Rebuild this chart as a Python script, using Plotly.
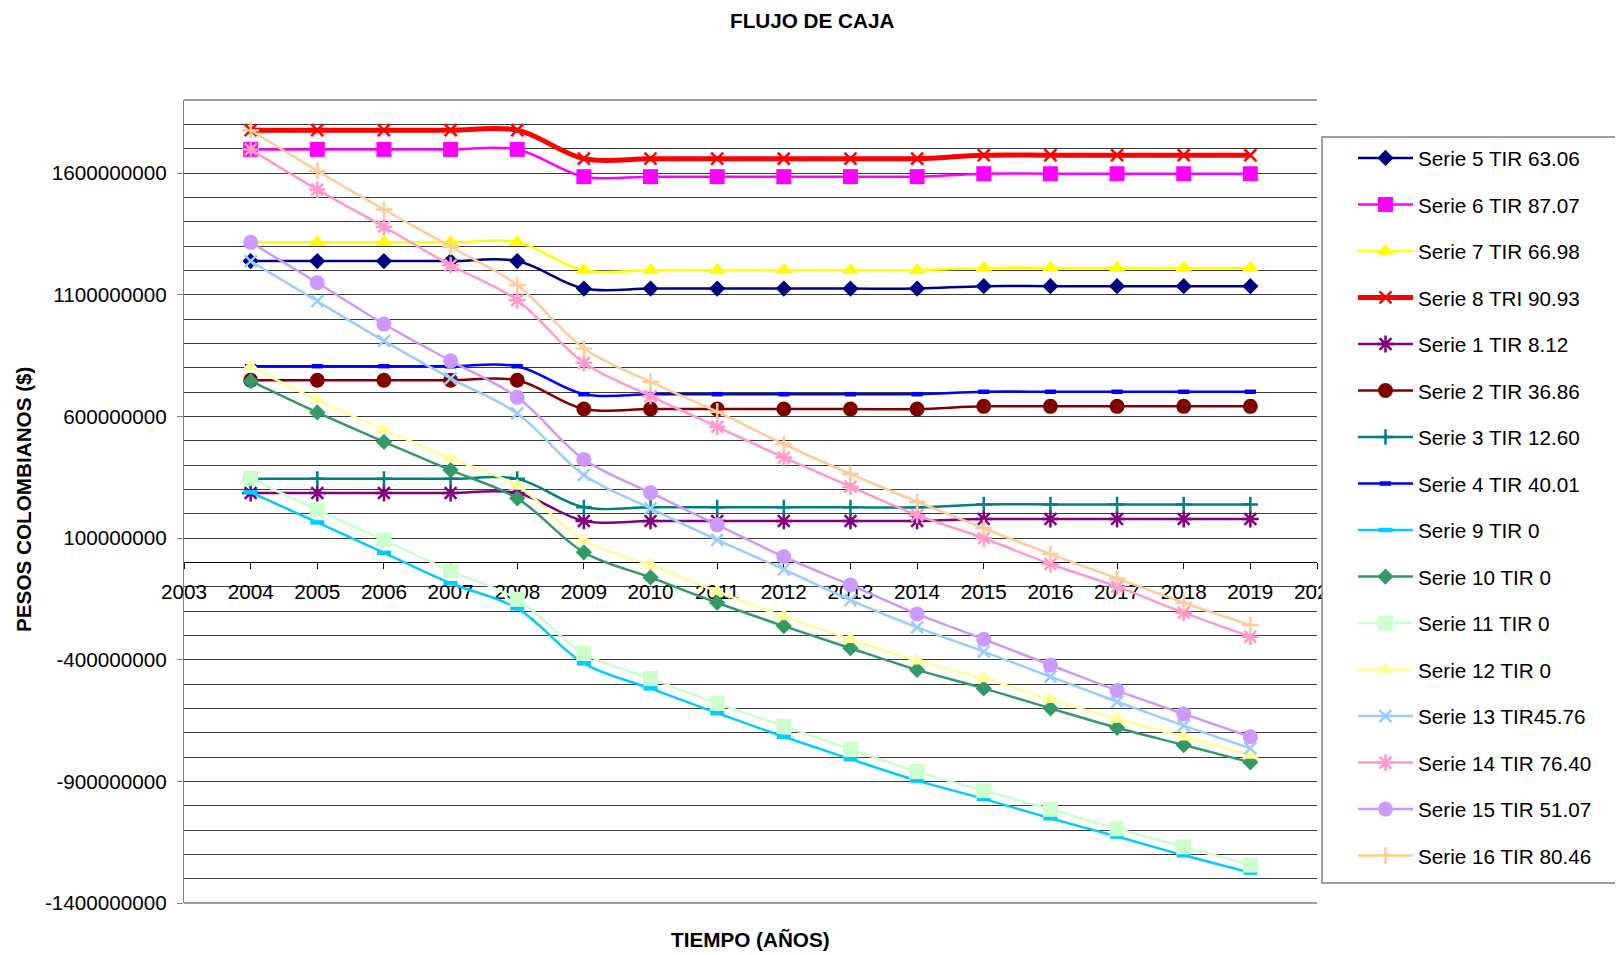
import plotly.graph_objects as go

years = list(range(2004, 2020))

# values in pesos
s5 = [1238e6]*5 + [1125e6]*6 + [1135e6]*5
s6 = [1697e6]*5 + [1585e6]*6 + [1597e6]*5
s7 = [1315e6]*5 + [1200e6]*6 + [1210e6]*5
s8 = [1776e6]*5 + [1659e6]*6 + [1673e6]*5
s1 = [285e6]*5 + [170e6]*6 + [178e6]*5
s2 = [748e6]*5 + [630e6]*6 + [641e6]*5
s3 = [343e6]*5 + [226e6]*6 + [238e6]*5
s4 = [806e6]*5 + [691e6]*6 + [701e6]*5
s9 = [288e6, 164e6, 39e6, -86e6, -189e6, -415e6, -518e6, -620e6, -717e6, -809e6,
      -897e6, -972e6, -1052e6, -1127e6, -1204e6, -1275e6]
s10 = [745e6, 616e6, 495e6, 379e6, 263e6, 41e6, -62e6, -166e6, -262e6, -353e6,
       -442e6, -518e6, -600e6, -680e6, -751e6, -822e6]
s11 = [345e6, 215e6, 92e6, -35e6, -152e6, -374e6, -477e6, -579e6, -673e6, -768e6,
       -860e6, -938e6, -1015e6, -1095e6, -1169e6, -1244e6]
s12 = [804e6, 667e6, 546e6, 427e6, 314e6, 90e6, -11e6, -120e6, -223e6, -316e6,
       -404e6, -477e6, -563e6, -644e6, -717e6, -792e6]
s13 = [1238e6, 1073e6, 910e6, 756e6, 612e6, 359e6, 222e6, 92e6, -29e6, -155e6,
       -267e6, -367e6, -470e6, -573e6, -671e6, -764e6]
s14 = [1697e6, 1532e6, 1379e6, 1221e6, 1077e6, 820e6, 683e6, 557e6, 431e6, 311e6,
       194e6, 99e6, -7e6, -100e6, -207e6, -306e6]
s15 = [1315e6, 1149e6, 979e6, 828e6, 678e6, 423e6, 286e6, 154e6, 23e6, -93e6,
       -212e6, -316e6, -422e6, -527e6, -623e6, -717e6]
s16 = [1776e6, 1609e6, 1450e6, 1297e6, 1139e6, 879e6, 742e6, 619e6, 486e6, 363e6,
       249e6, 140e6, 34e6, -66e6, -166e6, -258e6]

names = ["Serie 5 TIR 63.06", "Serie 6 TIR 87.07", "Serie 7 TIR 66.98", "Serie 8 TRI 90.93",
         "Serie 1 TIR 8.12", "Serie 2 TIR 36.86", "Serie 3 TIR 12.60", "Serie 4 TIR 40.01",
         "Serie 9 TIR 0", "Serie 10 TIR 0", "Serie 11 TIR 0", "Serie 12 TIR 0",
         "Serie 13 TIR45.76", "Serie 14 TIR 76.40", "Serie 15 TIR 51.07", "Serie 16 TIR 80.46"]
series = [s5, s6, s7, s8, s1, s2, s3, s4, s9, s10, s11, s12, s13, s14, s15, s16]

ytickvals = [-1400e6, -900e6, -400e6, 100e6, 600e6, 1100e6, 1600e6]
yticktext = ["-1400000000", "-900000000", "-400000000", "100000000",
             "600000000", "1100000000", "1600000000"]
xtickvals = list(range(2003, 2021))

colors = ["#000080", "#FF00FF", "#FFFF00", "#FF0000", "#800080", "#800000", "#008080", "#0000FF",
          "#00CCFF", "#339966", "#CCFFCC", "#FFFF99", "#99CCFF", "#FF99CC", "#CC99FF", "#FFCC99"]
symbols = ["diamond", "square", "triangle-up", "x-thin", "asterisk", "circle", "cross-thin", "line-ew",
           "line-ew", "diamond", "square", "triangle-up", "x-thin", "asterisk", "circle", "cross-thin"]
sizes = [12.5, 15, 15, 12, 14, 15, 11, 8, 10, 12.5, 15, 15, 12, 14, 15, 12]
widths = [2.5, 2.5, 2.5, 5, 2.5, 2.5, 2.5, 2.5, 2.5, 2.5, 2.5, 2.5, 2.5, 2.5, 2.5, 2.5]

FONT = "Liberation Sans, Arial, sans-serif"
FS = 20.7

# page body has an 8px margin; work in screen pixels and convert
O = 8
W, H = 1623 - O, 955 - O
L, R, T, B = 184 - O, 1317 - O, 100 - O, 903 - O
pw, ph = R - L, B - T


def px(xs):
    return (xs - O - L) / pw


def py(ys):
    return (B - (ys - O)) / ph


fig = go.Figure()
for name, vals, c, sym, sz, lw in zip(names, series, colors, symbols, sizes, widths):
    thin = sym in ("x-thin", "asterisk", "cross-thin", "line-ew")
    mline = dict(color=c, width=(4.5 if sym == "line-ew" else 2.5)) if thin else dict(width=0)
    fig.add_trace(go.Scatter(
        x=years, y=vals, name=name, legendgroup=name,
        mode="lines+markers",
        line=dict(color=c, width=lw, shape="spline", smoothing=1),
        marker=dict(symbol=sym, size=sz, color=c, line=mline),
    ))

GRID = "#3c3c3c"
fig.update_layout(
    width=W, height=H,
    margin=dict(l=L, r=W - R, t=T, b=H - B, autoexpand=False),
    paper_bgcolor="white", plot_bgcolor="white",
    font=dict(family=FONT, size=FS, color="black"),
    showlegend=True,
    legend=dict(
        x=px(1353), xanchor="left",
        y=py(138), yanchor="top",
        bgcolor="rgba(0,0,0,0)", borderwidth=0,
        font=dict(family=FONT, size=FS, color="black"),
        itemwidth=55, tracegroupgap=16.6, traceorder="grouped",
    ),
    xaxis=dict(
        range=[2003, 2020], tickmode="array", tickvals=xtickvals,
        anchor="free", position=1400 / 3300,
        showline=True, linecolor="black", linewidth=1,
        ticks="outside", ticklen=6, tickcolor="black",
        showgrid=False, zeroline=False, layer="below traces",
        tickfont=dict(family=FONT, size=FS, color="black"),
        ticklabelstandoff=5,
    ),
    yaxis=dict(
        range=[-1400e6, 1900e6], tickmode="array", tickvals=ytickvals, ticktext=yticktext,
        showline=True, linecolor="#808080", linewidth=1,
        ticks="outside", ticklen=6, tickcolor="#808080",
        showgrid=True, gridcolor=GRID, gridwidth=1,
        minor=dict(dtick=100e6, tick0=0, showgrid=True, gridcolor=GRID, gridwidth=1, ticks=""),
        zeroline=False,
        tickfont=dict(family=FONT, size=FS, color="black"),
        ticklabelstandoff=6,
    ),
    shapes=[
        dict(type="line", xref="paper", yref="paper", x0=0, x1=1, y0=1, y1=1,
             line=dict(color=GRID, width=1), layer="below"),
        dict(type="line", xref="paper", yref="paper", x0=0, x1=1, y0=0, y1=0,
             line=dict(color=GRID, width=1), layer="below"),
        dict(type="rect", xref="paper", yref="paper",
             x0=px(1322), x1=px(1621), y0=py(883), y1=py(137),
             line=dict(color="#808080", width=1.5), fillcolor="white", layer="above"),
    ],
    annotations=[
        dict(text="<b>FLUJO DE CAJA</b>", xref="paper", yref="paper",
             x=px(811.5), y=py(8), xanchor="center", yanchor="top", borderpad=0,
             showarrow=False, font=dict(family=FONT, size=FS, color="black")),
        dict(text="<b>TIEMPO (AÑOS)</b>", xref="paper", yref="paper",
             x=px(750), y=py(939), xanchor="center", yanchor="middle",
             showarrow=False, font=dict(family=FONT, size=FS, color="black")),
        dict(text="<b>PESOS COLOMBIANOS ($)</b>", xref="paper", yref="paper",
             x=px(23), y=py(499), xanchor="center", yanchor="middle",
             textangle=-90, showarrow=False, font=dict(family=FONT, size=FS, color="black")),
    ],
)

fig.write_html("out.html")
